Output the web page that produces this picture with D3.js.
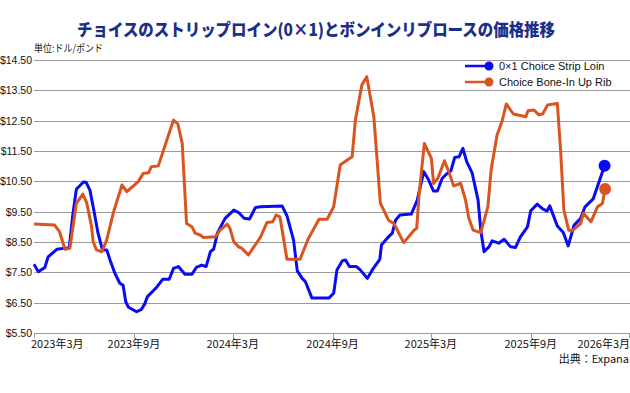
<!DOCTYPE html>
<html>
<head>
<meta charset="utf-8">
<script src="https://cdn.jsdelivr.net/npm/d3@7"></script>
<style>
  body { margin: 0; background: #fff; }
  text { font-family: "Liberation Sans", Arial, sans-serif; }
  .jp { font-family: "Noto Sans CJK JP", sans-serif; }
</style>
</head>
<body>
<script>
var width = 630;
var height = 393;

var title = "チョイスのストリップロイン(0×1)とボンインリブロースの価格推移";
var unitLabel = "単位:ドル/ポンド";
var sourceLabel = "出典：Expana";

var seriesNames = ["0×1 Choice Strip Loin", "Choice Bone-In Up Rib"];
var seriesColors = ["#0a0af5", "#d9541e"];

var yTicks = [5.5, 6.5, 7.5, 8.5, 9.5, 10.5, 11.5, 12.5, 13.5, 14.5];
var xTicks = ["2023-03-01", "2023-09-01", "2024-03-01", "2024-09-01", "2025-03-01", "2025-09-01", "2026-03-01"];
var xTickLabels = ["2023年3月", "2023年9月", "2024年3月", "2024年9月", "2025年3月", "2025年9月", "2026年3月"];

// 0x1 Choice Strip Loin ($/lb)
var stripLoin = [
  ["2023-03-01", 7.77], ["2023-03-09", 7.52], ["2023-03-21", 7.66], ["2023-03-27", 8.01],
  ["2023-04-12", 8.26], ["2023-04-24", 8.29], ["2023-05-05", 8.31], ["2023-05-11", 9.33],
  ["2023-05-18", 10.24], ["2023-05-31", 10.48], ["2023-06-05", 10.47], ["2023-06-12", 10.21],
  ["2023-06-18", 9.66], ["2023-06-27", 8.79], ["2023-07-05", 8.24], ["2023-07-13", 8.24],
  ["2023-07-19", 7.91], ["2023-07-28", 7.47], ["2023-08-06", 7.14], ["2023-08-12", 7.08],
  ["2023-08-17", 6.53], ["2023-08-22", 6.35], ["2023-09-06", 6.20], ["2023-09-15", 6.28],
  ["2023-09-21", 6.46], ["2023-09-26", 6.70], ["2023-10-13", 7.01], ["2023-10-24", 7.27],
  ["2023-11-05", 7.27], ["2023-11-13", 7.63], ["2023-11-22", 7.69], ["2023-12-04", 7.44],
  ["2023-12-17", 7.44], ["2023-12-25", 7.66], ["2024-01-04", 7.74], ["2024-01-12", 7.69],
  ["2024-01-20", 8.18], ["2024-01-26", 8.27], ["2024-02-02", 8.80], ["2024-02-16", 9.28],
  ["2024-03-03", 9.55], ["2024-03-12", 9.47], ["2024-03-22", 9.28], ["2024-04-01", 9.26],
  ["2024-04-12", 9.64], ["2024-04-21", 9.66], ["2024-05-31", 9.69], ["2024-06-09", 9.36],
  ["2024-06-21", 8.57], ["2024-06-28", 7.55], ["2024-07-07", 7.30], ["2024-07-13", 7.19],
  ["2024-07-25", 6.65], ["2024-08-25", 6.65], ["2024-09-03", 6.81], ["2024-09-09", 7.58],
  ["2024-09-19", 7.88], ["2024-09-25", 7.91], ["2024-10-02", 7.69], ["2024-10-15", 7.69],
  ["2024-10-22", 7.58], ["2024-11-04", 7.30], ["2024-11-15", 7.63], ["2024-11-27", 7.93],
  ["2024-11-30", 8.40], ["2024-12-13", 8.67], ["2024-12-20", 8.79], ["2024-12-26", 9.22],
  ["2025-01-03", 9.39], ["2025-01-24", 9.42], ["2025-02-04", 9.88], ["2025-02-16", 10.82],
  ["2025-02-25", 10.54], ["2025-03-06", 10.18], ["2025-03-13", 10.18], ["2025-03-22", 10.60],
  ["2025-03-31", 10.76], ["2025-04-07", 10.85], ["2025-04-14", 11.29], ["2025-04-22", 11.31],
  ["2025-04-29", 11.59], ["2025-05-06", 11.15], ["2025-05-16", 10.78], ["2025-05-27", 9.88],
  ["2025-06-01", 8.89], ["2025-06-07", 8.18], ["2025-06-16", 8.34], ["2025-06-22", 8.54],
  ["2025-07-04", 8.46], ["2025-07-14", 8.59], ["2025-07-26", 8.34], ["2025-08-04", 8.32],
  ["2025-08-13", 8.67], ["2025-08-26", 9.00], ["2025-09-01", 9.53], ["2025-09-13", 9.75],
  ["2025-09-23", 9.59], ["2025-10-01", 9.52], ["2025-10-06", 9.69], ["2025-10-20", 9.03],
  ["2025-10-31", 8.81], ["2025-11-09", 8.37], ["2025-11-20", 9.06], ["2025-12-02", 9.28],
  ["2025-12-10", 9.66], ["2025-12-25", 9.92], ["2026-01-15", 11.01]
];

// Choice Bone-In Up Rib ($/lb)
var upRib = [
  ["2023-03-01", 9.09], ["2023-04-08", 9.06], ["2023-04-17", 8.84], ["2023-04-27", 8.26],
  ["2023-05-06", 8.29], ["2023-05-18", 9.77], ["2023-05-30", 10.08], ["2023-06-06", 9.80],
  ["2023-06-15", 9.01], ["2023-06-18", 8.51], ["2023-06-24", 8.24], ["2023-07-04", 8.18],
  ["2023-07-13", 8.57], ["2023-07-25", 9.45], ["2023-08-10", 10.38], ["2023-08-19", 10.16],
  ["2023-09-09", 10.49], ["2023-09-18", 10.76], ["2023-09-28", 10.78], ["2023-10-03", 10.98],
  ["2023-10-16", 11.01], ["2023-11-13", 12.52], ["2023-11-21", 12.39], ["2023-11-29", 11.75],
  ["2023-12-07", 9.11], ["2023-12-17", 9.00], ["2023-12-23", 8.79], ["2024-01-01", 8.73],
  ["2024-01-07", 8.65], ["2024-01-29", 8.67], ["2024-02-07", 8.89], ["2024-02-20", 9.09],
  ["2024-02-25", 8.95], ["2024-03-03", 8.51], ["2024-03-12", 8.34], ["2024-03-18", 8.29],
  ["2024-03-30", 8.07], ["2024-04-09", 8.34], ["2024-04-21", 8.65], ["2024-05-03", 9.14],
  ["2024-05-14", 9.17], ["2024-05-20", 9.39], ["2024-05-27", 9.33], ["2024-06-09", 7.93],
  ["2024-07-03", 7.93], ["2024-07-18", 8.60], ["2024-08-07", 9.25], ["2024-08-22", 9.25],
  ["2024-09-03", 9.66], ["2024-09-15", 11.04], ["2024-09-28", 11.20], ["2024-10-07", 11.31],
  ["2024-10-13", 12.52], ["2024-10-25", 13.68], ["2024-11-03", 13.95], ["2024-11-16", 12.63],
  ["2024-11-28", 9.78], ["2024-12-13", 9.22], ["2024-12-23", 9.11], ["2025-01-10", 8.48],
  ["2025-01-29", 8.89], ["2025-02-03", 8.95], ["2025-02-07", 9.99], ["2025-02-17", 11.75],
  ["2025-03-02", 11.26], ["2025-03-06", 10.43], ["2025-03-14", 10.60], ["2025-03-26", 11.18],
  ["2025-04-03", 10.82], ["2025-04-12", 10.35], ["2025-04-25", 10.43], ["2025-05-04", 9.88],
  ["2025-05-10", 9.28], ["2025-05-18", 8.89], ["2025-06-01", 8.81], ["2025-06-14", 9.66],
  ["2025-06-20", 10.87], ["2025-07-01", 12.03], ["2025-07-10", 12.47], ["2025-07-18", 13.05],
  ["2025-07-31", 12.72], ["2025-08-23", 12.63], ["2025-08-27", 12.83], ["2025-09-07", 12.85],
  ["2025-09-16", 12.69], ["2025-09-23", 12.72], ["2025-10-02", 13.02], ["2025-10-20", 13.07],
  ["2025-10-26", 11.53], ["2025-11-01", 9.55], ["2025-11-10", 8.89], ["2025-11-16", 8.87],
  ["2025-12-02", 9.11], ["2025-12-07", 9.45], ["2025-12-21", 9.17], ["2026-01-02", 9.66],
  ["2026-01-11", 9.77], ["2026-01-16", 10.25]
];

var parse = d3.timeParse("%Y-%m-%d");

var x = d3.scaleTime()
  .domain([parse("2023-03-01"), parse("2026-03-01")])
  .range([34, 629]);

var y = d3.scaleLinear()
  .domain([5.5, 14.5])
  .range([333, 60]);

var svg = d3.select("body").append("svg")
  .attr("width", width)
  .attr("height", height);

// title
svg.append("text")
  .attr("class", "jp")
  .attr("x", 77)
  .attr("y", 36)
  .attr("textLength", 478)
  .attr("lengthAdjust", "spacingAndGlyphs")
  .style("font-size", "17px")
  .style("font-weight", 900)
  .attr("fill", "#1b2f88")
  .text(title);

svg.append("text")
  .attr("class", "jp")
  .attr("x", 34)
  .attr("y", 52)
  .attr("textLength", 69)
  .attr("lengthAdjust", "spacingAndGlyphs")
  .style("font-size", "10px")
  .attr("fill", "#222")
  .text(unitLabel);

// grid lines + y labels
svg.selectAll(".grid")
  .data(yTicks)
.enter().append("line")
  .attr("x1", 34)
  .attr("x2", 630)
  .attr("y1", function(d) { return Math.round(y(d)) + 0.5; })
  .attr("y2", function(d) { return Math.round(y(d)) + 0.5; })
  .attr("stroke", "#9a9a9a")
  .attr("stroke-width", 1);

svg.selectAll(".ylab")
  .data(yTicks)
.enter().append("text")
  .attr("x", 32)
  .attr("y", function(d) { return y(d) + 4; })
  .attr("text-anchor", "end")
  .style("font-size", "10.5px")
  .attr("fill", "#111")
  .text(function(d) { return "$" + d.toFixed(2); });

// x axis ticks + labels
var xg = svg.append("g");
xg.selectAll("line")
  .data(xTicks)
.enter().append("line")
  .attr("x1", function(d) { return Math.round(x(parse(d))) + 0.5; })
  .attr("x2", function(d) { return Math.round(x(parse(d))) + 0.5; })
  .attr("y1", 333)
  .attr("y2", 338)
  .attr("stroke", "#9a9a9a");

xg.selectAll("text")
  .data(xTicks)
.enter().append("text")
  .attr("class", "jp")
  .attr("x", function(d, i) {
    if (i == 0) return 31;
    if (i == xTicks.length - 1) return 630;
    return x(parse(d));
  })
  .attr("y", 348)
  .attr("text-anchor", function(d, i) {
    if (i == 0) return "start";
    if (i == xTicks.length - 1) return "end";
    return "middle";
  })
  .style("font-size", "11px")
  .attr("fill", "#111")
  .text(function(d, i) { return xTickLabels[i]; });

// lines
var line = d3.line()
  .x(function(d) { return x(parse(d[0])); })
  .y(function(d) { return y(d[1]); });

var allSeries = [stripLoin, upRib];

allSeries.forEach(function(s, i) {
  svg.append("path")
    .attr("d", line(s))
    .attr("fill", "none")
    .attr("stroke", seriesColors[i])
    .attr("stroke-width", 3)
    .attr("stroke-linejoin", "round");
  var last = s[s.length - 1];
  svg.append("circle")
    .attr("cx", x(parse(last[0])))
    .attr("cy", y(last[1]))
    .attr("r", 6)
    .attr("fill", seriesColors[i]);
});

// legend
var legend = svg.append("g");
seriesNames.forEach(function(name, i) {
  var ly = 66 + i * 16;
  legend.append("line")
    .attr("x1", 465).attr("x2", 489)
    .attr("y1", ly).attr("y2", ly)
    .attr("stroke", seriesColors[i])
    .attr("stroke-width", 2.5);
  legend.append("circle")
    .attr("cx", 489).attr("cy", ly).attr("r", 4.5)
    .attr("fill", seriesColors[i]);
  legend.append("text")
    .attr("x", 499).attr("y", ly + 4)
    .style("font-size", "11px")
    .attr("fill", "#111")
    .text(name);
});

svg.append("text")
  .attr("class", "jp")
  .attr("x", 629)
  .attr("y", 363)
  .attr("text-anchor", "end")
  .style("font-size", "11px")
  .attr("fill", "#111")
  .text(sourceLabel);
</script>
</body>
</html>
